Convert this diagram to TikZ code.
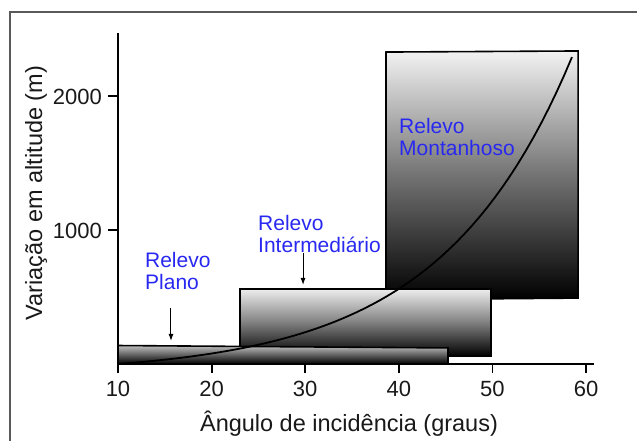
\documentclass[tikz,border=0pt]{standalone}
\usepackage{fontspec}
\setmainfont{Liberation Sans}
\usepackage{tikz}
\usetikzlibrary{arrows.meta}
\usepackage{xcolor}
\definecolor{labelblue}{RGB}{40,40,240}
\tikzstyle{relief}=[draw=black, line width=1.6pt, bottom color=black]
\tikzstyle{tag}=[text=labelblue, align=left, anchor=north west, inner sep=0pt, font=\fontsize{21}{22}\selectfont]
\tikzstyle{pointer}=[-{Latex[length=7pt,width=5pt]}, line width=1pt]
\tikzstyle{ticklbl}=[inner sep=0pt, font=\fontsize{22}{24}\selectfont, text=black!90]
\tikzstyle{axislbl}=[inner sep=0pt, font=\fontsize{23.5}{26}\selectfont, text=black!90]
\tikzstyle{axis}=[line width=1.8pt]

\begin{document}
\begin{tikzpicture}[x=9.36pt, y=0.134pt]
\useasboundingbox (-2.607,-574.6) rectangle (65.449,2716.4);
\draw[black!65, line width=1.2pt] (65.449,2627) -- (-1.538,2627) -- (-1.538,-574.6);
% relief boxes, back to front
\path[relief, top color=black!5, middle color=black!55] (38.63,480) -- (38.63,2328) -- (59.15,2336) -- (59.15,492) -- cycle;
\path[relief, top color=black!7, middle color=black!50] (23.03,60) rectangle (49.85,560);
\path[relief, top color=black!25] (10,0) -- (10,138) -- (45.26,120) -- (45.26,0) -- cycle;
\draw[line width=1.8pt] plot[domain=10:58.5, samples=60] (\x, {75.6*(exp(0.071*(\x-10))-1)});
% axes
\coordinate (o) at (10,0);
\draw[axis] (10,-60) -- (10,2470);
\draw[axis] (o) -- (60.85,0);
\foreach \v in {10,20,...,60} {
 \draw[axis] (\v,0) -- ++(0,-9pt);
 \node[ticklbl, anchor=base] (xl\v) at (\v,-246) {\v};
}
\foreach \h in {1000,2000} {
 \draw[axis] (10,\h) -- ++(-10pt,0);
 \node[ticklbl, anchor=base east] (yl\h) at (8.29,\h-60) {\h};
}
\node[axislbl, rotate=90] (ytitle) at (1.24,1276) {Variação em altitude (m)};
\node[axislbl, anchor=base] (xtitle) at (34.68,-500) {Ângulo de incidência (graus)};
% labels
\node[tag] (mont) at (40.02,1836) {Relevo\\Montanhoso};
\node[tag] (inter) at (24.96,1112) {Relevo\\Intermediário};
\node[tag] (plano) at (12.88,836) {Relevo\\Plano};
\coordinate (pl-tail) at (15.66,418);
\coordinate (pl-head) at (15.66,172);
\coordinate (in-tail) at (29.77,828);
\coordinate (in-head) at (29.77,590);
\draw[pointer] (pl-tail) -- (pl-head);
\draw[pointer] (in-tail) -- (in-head);
\end{tikzpicture}
\end{document}
